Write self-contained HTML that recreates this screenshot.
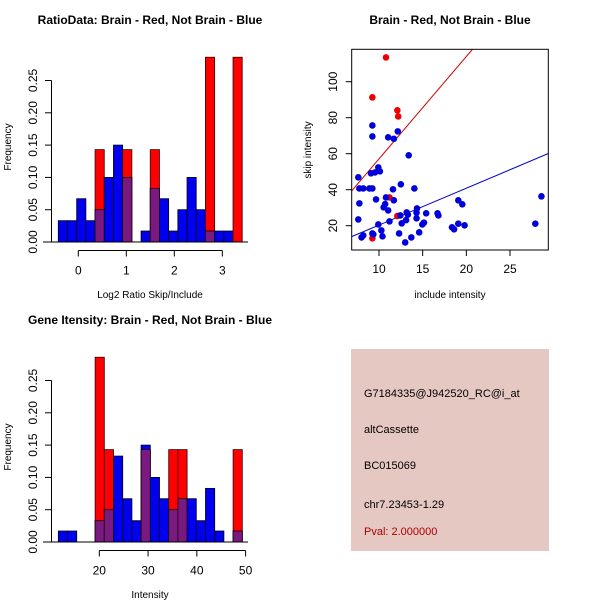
<!DOCTYPE html>
<html><head><meta charset="utf-8"><style>
body{margin:0;background:#fff}
svg{display:block;font-family:"Liberation Sans",sans-serif}
</style></head><body>
<svg id="c" width="600" height="600" viewBox="0 0 600 600">
<rect width="600" height="600" fill="#fff"/>
</svg>
<script>
// ---- Ratio histogram data ----
const ratioBinStart = -0.417;
const ratioBinWidth = 0.1916;
const ratioBlue = [0.033,0.033,0.067,0.033,0.05,0.1,0.15,0.1,0,0.017,0.083,0.067,0.017,0.05,0.1,0.05,0.017,0.017,0.017,0];
const ratioRed  = [0,0,0,0,0.143,0,0,0.143,0,0,0.143,0,0,0,0,0,0.286,0,0,0.286];
const ratioXTicks = [0,1,2,3];
// ---- Intensity histogram data ----
const intBinStart = 11.6;
const intBinWidth = 1.886;
const intBlue = [0.017,0.017,0,0,0.033,0.05,0.133,0.067,0.033,0.15,0.1,0.067,0.05,0.067,0.067,0.033,0.083,0.017,0,0.017];
const intRed  = [0,0,0,0,0.286,0.143,0,0,0,0.143,0,0,0.143,0.143,0,0,0,0,0,0.143];
const intXTicks = [20,30,40,50];
const freqTicks = [0,0.05,0.10,0.15,0.20,0.25];
const freqTickLabels = ["0.00","0.05","0.10","0.15","0.20","0.25"];
// ---- Scatter data ----
const redX = [10.8,9.24,12.1,12.2,11.2,12.1,9.24];
const redY = [113.5,91.3,84.1,80.7,35.7,25.4,13];
const blueX = [7.63,7.75,8.2,7.75,7.63,8.0,8.2,9.24,9.24,9.08,9.54,9.92,10.1,8.9,9.24,9.66,9.92,9.24,9.35,10.27,10.4,10.53,10.7,10.8,11.05,11.2,11.05,11.7,12.15,11.6,11.7,12.44,12.6,12.3,12.5,13.17,13.1,13.3,13.4,13.0,13.7,14.05,14.3,14.35,14.3,14.6,14.96,15.15,15.4,16.7,16.8,18.36,18.6,19.08,19.54,19.08,19.8,27.9,28.6];
const blueY = [46.9,40.7,40.7,32.4,23.5,13.5,14.6,75.7,69.6,49.1,49.6,52.4,50.2,40.7,40.7,34.6,20.7,15.7,15.2,17.4,14.1,30.2,32,35.7,28.5,22.4,69.1,68.3,72.4,40.2,34.1,25.7,21.3,15.7,43,27.4,23.1,26.1,59.1,10.7,13.5,40.7,27.2,29.6,24.1,16.3,20.7,21.7,26.9,26.9,25.7,19.1,18,34.1,31.9,21.1,20.2,21.1,36.3];
const redLine = [0.2,5.69];   // intercept, slope
const blueLine = [-0.17,2.05];
const scatterXTicks = [10,15,20,25];
const scatterYTicks = [20,40,60,80,100];

const svg = document.getElementById('c');
const NS = 'http://www.w3.org/2000/svg';
function mk(tag, attrs, parent){
  const e = document.createElementNS(NS, tag);
  for (const k in attrs) e.setAttribute(k, attrs[k]);
  (parent||svg).appendChild(e);
  return e;
}
function txt(s, x, y, opts, parent){
  const t = mk('text', Object.assign({x:x, y:y, 'font-size':12, 'text-anchor':'middle', fill:'#000'}, opts||{}), parent);
  t.textContent = s;
  return t;
}

function histogram(name, top, binStart, binWidth, blue, red, xticks, xval2px, title, xlabel){
  const g = mk('g', {});
  
  
  const y0 = top + 202, yPer = 646;
  const yS = v => y0 - v*yPer;
  const tt = txt(title, 150, top - 16, {'font-weight':'bold','font-size':12}, g);
  
  
  for (let i = 0; i < blue.length; i++){
    const x1 = xval2px(binStart + i*binWidth), x2 = xval2px(binStart + (i+1)*binWidth);
    const r = red[i], b = blue[i];
    if (r > 0){
      const e = mk('rect', {x:x1, y:yS(r), width:x2-x1, height:r*yPer, fill:'#ff0000', stroke:'#300', 'stroke-width':0.8}, g);
      
      
    }
    if (b > 0){
      const e = mk('rect', {x:x1, y:yS(b), width:x2-x1, height:b*yPer, fill:'#0000ee', stroke:'#001', 'stroke-width':0.8}, g);
      
      
    }
    const m = Math.min(r, b);
    if (m > 0){
      const e = mk('rect', {x:x1, y:yS(m), width:x2-x1, height:m*yPer, fill:'#7a1a80', stroke:'#201', 'stroke-width':0.8}, g);
      
      
    }
  }
  mk('line', {x1:43, x2:248, y1:y0, y2:y0, stroke:'#000', 'stroke-width':1}, g);
  mk('line', {x1:51.5, x2:51.5, y1:yS(0), y2:yS(0.25), stroke:'#000'}, g);
  freqTicks.forEach((v, i) => {
    mk('line', {x1:45, x2:51.5, y1:yS(v), y2:yS(v), stroke:'#000'}, g);
    const yy = yS(v);
    const l = txt(freqTickLabels[i], 0, 0, {transform:`translate(37,${yy}) rotate(-90)`}, g);
    
    
  });
  const yt = txt('Frequency', 0, 0, {transform:`translate(11,${y0-95}) rotate(-90)`, 'font-size':10}, g);
  
  
  const ax = top + 210.5;
  mk('line', {x1:xval2px(xticks[0]), x2:xval2px(xticks[xticks.length-1]), y1:ax, y2:ax, stroke:'#000'}, g);
  xticks.forEach(v => {
    mk('line', {x1:xval2px(v), x2:xval2px(v), y1:ax, y2:ax+6, stroke:'#000'}, g);
    const l = txt(String(v), xval2px(v), ax+24, {}, g);
    
    
  });
  const xt = txt(xlabel, 150, top + 258, {'font-size':10}, g);
  
  
}

histogram('ratio-histogram', 40, ratioBinStart, ratioBinWidth, ratioBlue, ratioRed, ratioXTicks,
  v => 78.3 + v*48, 'RatioData: Brain - Red, Not Brain - Blue', 'Log2 Ratio Skip/Include');
histogram('intensity-histogram', 340, intBinStart, intBinWidth, intBlue, intRed, intXTicks,
  v => 99.3 + (v-20)*4.877, 'Gene Itensity: Brain - Red, Not Brain - Blue', 'Intensity');

(function(){
  const g = mk('g', {});
  
  
  const L = 351.7, R = 548.3, T = 49.3, B = 250;
  const xS = v => 379 + (v-10)*8.733;
  const yS = v => 225.7 - (v-20)*1.8;
  const t = txt('Brain - Red, Not Brain - Blue', 450, 24, {'font-weight':'bold','font-size':12}, g);
  
  
  const clip = mk('clipPath', {id:'sc'}, g);
  mk('rect', {x:L, y:T, width:R-L, height:B-T}, clip);
  const lines = mk('g', {'clip-path':'url(#sc)'}, g);
  const xa = 6.87, xb = 29.4;
  const rl = mk('line', {x1:xS(xa), y1:yS(redLine[0]+redLine[1]*xa), x2:xS(xb), y2:yS(redLine[0]+redLine[1]*xb), stroke:'#cc0000', 'stroke-width':1}, lines);
  
  
  const bl = mk('line', {x1:xS(xa), y1:yS(blueLine[0]+blueLine[1]*xa), x2:xS(xb), y2:yS(blueLine[0]+blueLine[1]*xb), stroke:'#0000cc', 'stroke-width':1}, lines);
  
  
  redX.forEach((x, i) => {
    const c = mk('circle', {cx:xS(x), cy:yS(redY[i]), r:3.3, fill:'#ee0000'}, g);
    
    
  });
  blueX.forEach((x, i) => {
    const c = mk('circle', {cx:xS(x), cy:yS(blueY[i]), r:3.3, fill:'#0000dd'}, g);
    
    
  });
  mk('rect', {x:L, y:T, width:R-L, height:B-T, fill:'none', stroke:'#000'}, g);
  scatterXTicks.forEach(v => {
    mk('line', {x1:xS(v), x2:xS(v), y1:B, y2:B+6, stroke:'#000'}, g);
    const l = txt(String(v), xS(v), B+23, {}, g);
    
    
  });
  scatterYTicks.forEach(v => {
    mk('line', {x1:L-6, x2:L, y1:yS(v), y2:yS(v), stroke:'#000'}, g);
    const l = txt(String(v), 0, 0, {transform:`translate(337,${yS(v)}) rotate(-90)`}, g);
    
    
  });
  const xt = txt('include intensity', 450, 298, {'font-size':10}, g);
  
  
  const yt = txt('skip intensity', 0, 0, {transform:'translate(311,150) rotate(-90)', 'font-size':10}, g);
  
  
})();

(function(){
  const g = mk('g', {});
  
  
  mk('rect', {x:351, y:349, width:198, height:202, fill:'#e6c8c2'}, g);
  const lines = [['G7184335@J942520_RC@i_at',397,'#000','probe-id'],['altCassette',433,'#000','event-type'],['BC015069',469,'#000','accession'],['chr7.23453-1.29',508,'#000','location'],['Pval: 2.000000',535,'#aa0000','p-value']];
  lines.forEach(l => {
    const t = txt(l[0], 364, l[1], {'text-anchor':'start', fill:l[2], 'font-size':11}, g);
    
    
  });
})();
</script>
</body></html>
